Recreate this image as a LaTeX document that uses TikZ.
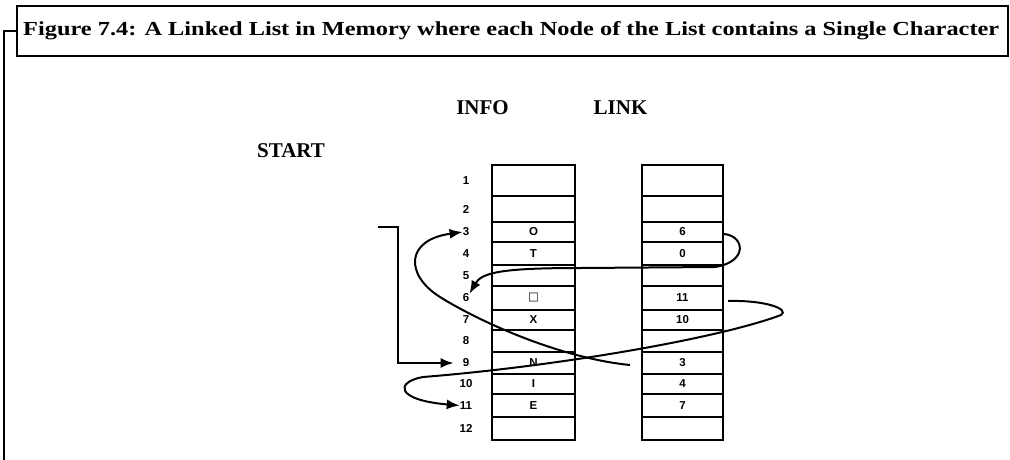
\documentclass[tikz,border=0pt]{standalone}
\usepackage{graphicx}
\usepackage{fontspec}
\setmainfont{Liberation Serif}
\newfontfamily\cellfont{Liberation Sans}
\newfontfamily\symfont{DejaVu Sans}
\usetikzlibrary{arrows.meta}
\begin{document}
\begin{tikzpicture}[x=1pt,y=-1pt,
  cell/.style={draw, line width=2.2pt, inner sep=0pt, font=\cellfont\bfseries\fontsize{11.5}{11}\selectfont},
  rowlbl/.style={inner sep=0pt, font=\cellfont\bfseries\fontsize{11.5}{11}\selectfont},
  head/.style={inner sep=0pt, anchor=base, font=\bfseries\fontsize{21}{21}\selectfont},
  linkarrow/.style={line width=2pt, -{Latex[length=13pt,width=10pt]}},
  frame/.style={line width=2.2pt}]
\useasboundingbox (0,0) rectangle (1010,459);

% title frame
\node[frame, draw, inner sep=0pt, minimum width=991pt, minimum height=50pt, anchor=north west] (titlebox) at (16,5) {};
\node[anchor=base west, inner sep=0pt] (title) at (23,35)
  {\resizebox{976pt}{14pt}{\bfseries Figure 7.4: A Linked List in Memory where each Node of the List contains a Single Character}};
\coordinate (lb) at (4,460);
\draw[frame] (titlebox.west) -| (lb);

% headers
\node[head] (info) at (482.5,114) {INFO};
\node[head] (linkh) at (620.5,114) {LINK};
\node[head] (start) at (291,157) {START};

% cells
\foreach \i/\t/\b/\a/\l in {1/165/196/{}/{},2/196/222/{}/{},3/222/242/O/6,4/242/265/T/0,
  5/265/286/{}/{},6/286/310/{\symfont\bfseries □}/11,7/310/330/X/10,8/330/352/{}/{},
  9/352/374/N/3,10/374/394/I/4,11/394/417/E/7,12/417/440/{}/{}}{
  \node[cell, minimum width=83pt, minimum height={(\b-\t)*1pt}] (info\i) at (533.5,{(\t+\b)/2}) {\a};
  \node[cell, minimum width=81pt, minimum height={(\b-\t)*1pt}] (link\i) at (682.5,{(\t+\b)/2}) {\l};
  \node[rowlbl] (lbl\i) at (466,{(\t+\b)/2}) {\i};
}

% START pointer
\coordinate (s0) at (378,227);
\draw[linkarrow, shorten >=9pt] (s0) -- ++(20,0) |- (lbl9.west);

% link 3 (row 9) -> row 3
\coordinate (c2s) at (630,365);
\draw[linkarrow] (c2s) .. controls (560,358) and (480,322) .. (440,297)
  .. controls (405,275) and (405,240) .. (lbl3.west);

% link 6 (row 3) -> row 6
\draw[linkarrow] ([yshift=-2pt]link3.east) .. controls (745,236) and (748,262) .. (715,267)
  -- (580,268) .. controls (505,268) and (482,272) .. (lbl6.north east);

% link 11 (row 6) -> row 11
\draw[linkarrow] ([shift={(4,3)}]link6.east) .. controls (765,300) and (790,309) .. (781,315)
  .. controls (720,338) and (560,366) .. (423,377)
  .. controls (395,382) and (395,400) .. (lbl11.west);
\end{tikzpicture}
\end{document}
